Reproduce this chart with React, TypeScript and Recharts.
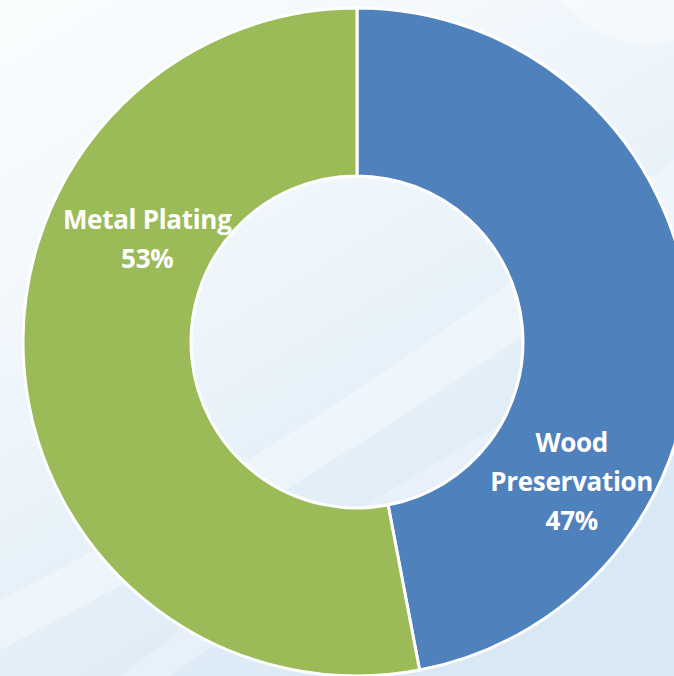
import { PieChart, Pie, Cell } from 'recharts'

const categories = ['Wood Preservation', 'Metal Plating']
const shares = [47, 53]
const colors = ['#4F81BD', '#9BBB59']
// label lines as shown on the slices
const labelLines = [['Wood', 'Preservation', '47%'], ['Metal Plating', '53%']]

const data = categories.map((name, i) => ({ name, value: shares[i] }))

// where each label sits: angle (deg, counter-clockwise from 3 o'clock) and distance from centre
const labelPlacement = [
  { angle: -33, dist: 256 },
  { angle: 153.7, dist: 234 },
]

function SliceLabel({ cx, cy, index }: any) {
  const place = labelPlacement[index]
  const rad = (place.angle * Math.PI) / 180
  const x = cx + place.dist * Math.cos(rad)
  const y = cy - place.dist * Math.sin(rad)
  const lines = labelLines[index]
  const lh = 39
  const top = y - ((lines.length - 1) * lh) / 2
  return (
    <text
      x={x}
      y={top}
      textAnchor="middle"
      dominantBaseline="central"
      fill="#ffffff"
      fontFamily="'Open Sans', sans-serif"
      fontWeight={700}
      fontSize={26}
      letterSpacing={-0.3}
    >
      {lines.map((t, i) => (
        <tspan key={i} x={x} y={top + i * lh}>
          {t}
        </tspan>
      ))}
    </text>
  )
}

function Backdrop() {
  return (
    <svg width={674} height={676} style={{ position: 'absolute', left: 0, top: 0 }}>
      <defs>
        <linearGradient id="bg" x1="0" y1="0" x2="0.6" y2="1">
          <stop offset="0%" stopColor="#fbfdfe" />
          <stop offset="45%" stopColor="#eff6fb" />
          <stop offset="100%" stopColor="#d8e8f5" />
        </linearGradient>
      </defs>
      <rect width={674} height={676} fill="url(#bg)" />
      <path d="M0 600 Q 300 450 674 160 L 674 230 Q 330 480 0 650 Z" fill="#ffffff" opacity={0.35} />
      <path d="M120 676 Q 380 480 674 330 L 674 360 Q 420 500 170 676 Z" fill="#ffffff" opacity={0.25} />
      <path d="M560 0 Q 620 60 674 40 L 674 0 Z" fill="#ffffff" opacity={0.4} />
    </svg>
  )
}

export default function App() {
  return (
    <div style={{ position: 'absolute', left: 0, top: 0, width: 674, height: 676, overflow: 'hidden' }}>
      <Backdrop />
      <div style={{ position: 'absolute', left: 0, top: 0 }}>
        <PieChart width={674} height={676} margin={{ top: 0, right: 0, bottom: 0, left: 0 }}>
          <Pie
            data={data}
            dataKey="value"
            nameKey="name"
            cx={357}
            cy={342}
            innerRadius={166}
            outerRadius={334}
            startAngle={90}
            endAngle={-270}
            stroke="#ffffff"
            strokeWidth={3}
            label={SliceLabel}
            labelLine={false}
            isAnimationActive={false}
          >
            {data.map((d, i) => (
              <Cell key={d.name} fill={colors[i]} />
            ))}
          </Pie>
        </PieChart>
      </div>
    </div>
  )
}
